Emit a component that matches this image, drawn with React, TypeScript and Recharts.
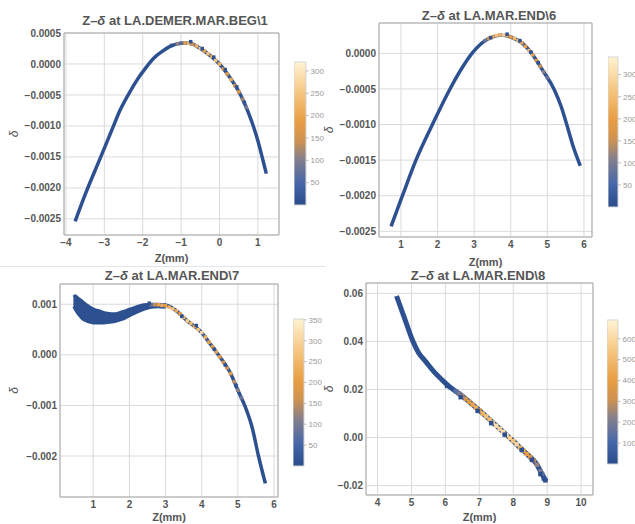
import React from "react";
import {
  ComposedChart,
  Line,
  Area,
  Scatter,
  XAxis,
  YAxis,
  CartesianGrid,
  ReferenceArea,
  BarChart,
  Bar,
} from "recharts";

const FONT = '"Liberation Sans", Arial, sans-serif';
const BLUE = "#2d5190";

// ---- panel 1: LA.DEMER.MAR.BEG\1 ----
const curve1 = [
  [-3.76, -0.00254], [-3.5, -0.00211], [-3.12, -0.00154], [-2.76, -0.001], [-2.6, -0.00076],
  [-2.37, -0.00049], [-2.15, -0.00026], [-1.93, -0.00007], [-1.7, 0.0001], [-1.5, 0.0002],
  [-1.3, 0.00028], [-1.1, 0.000325], [-0.9, 0.00034], [-0.7, 0.00032], [-0.5, 0.00025],
  [-0.25, 0.00014], [0, 0], [0.25, -0.0002], [0.55, -0.0005], [0.75, -0.00078],
  [0.88, -0.001], [1.0, -0.00124], [1.11, -0.0015], [1.22, -0.00177],
];
const hot1 = [
  [-1.1, 0.000325, 110], [-1.0, 0.000337, 70], [-0.9, 0.00034, 190], [-0.8, 0.000335, 230],
  [-0.7, 0.00032, 150], [-0.6, 0.00029, 220], [-0.5, 0.00025, 260], [-0.4, 0.00021, 200],
  [-0.3, 0.000165, 240], [-0.2, 0.00012, 210], [-0.1, 0.00006, 250], [0.0, 0.0, 220],
  [0.1, -0.00008, 190], [0.2, -0.00016, 170], [0.3, -0.00025, 210], [0.4, -0.00035, 150],
  [0.5, -0.00045, 170], [0.6, -0.00057, 120], [0.7, -0.0007, 90],
  [-1.25, 0.0003, 15], [-0.75, 0.00036, 10], [-0.45, 0.00025, 10], [-0.15, 0.00011, 12],
  [0.15, -0.00009, 10], [0.45, -0.00037, 12], [0.65, -0.00062, 15],
];
const xTicks1 = [-4, -3, -2, -1, 0, 1];
const yTicks1 = [-0.0025, -0.002, -0.0015, -0.001, -0.0005, 0, 0.0005];
const cbTicks1 = [50, 100, 150, 200, 250, 300];

// ---- panel 2: LA.MAR.END\6 ----
const curve2 = [
  [0.73, -0.00243], [1.04, -0.002], [1.41, -0.0015], [1.86, -0.001], [2.34, -0.0005],
  [2.65, -0.00022], [2.94, 0], [3.3, 0.00018], [3.55, 0.00024], [3.75, 0.00026],
  [4.0, 0.00023], [4.3, 0.00015], [4.57, 0], [4.9, -0.00026], [5.18, -0.0005],
  [5.38, -0.00075], [5.53, -0.001], [5.72, -0.00133], [5.9, -0.00158],
];
const hot2 = [
  [3.3, 0.00018, 90], [3.4, 0.00021, 170], [3.5, 0.00023, 220], [3.6, 0.00025, 260],
  [3.7, 0.00026, 240], [3.8, 0.00026, 290], [3.9, 0.00025, 230], [4.0, 0.00023, 180],
  [4.1, 0.00021, 240], [4.2, 0.00018, 260], [4.3, 0.00015, 220], [4.4, 0.0001, 200],
  [4.5, 0.00004, 250], [4.6, -0.00002, 210], [4.7, -0.0001, 180], [4.8, -0.00018, 150],
  [4.9, -0.00026, 110], [5.0, -0.00034, 80],
  [3.45, 0.00022, 10], [3.9, 0.00027, 12], [4.25, 0.00018, 10], [4.55, 0.00002, 12],
  [4.75, -0.00013, 10],
];
const xTicks2 = [1, 2, 3, 4, 5, 6];
const yTicks2 = [-0.0025, -0.002, -0.0015, -0.001, -0.0005, 0];
const cbTicks2 = [50, 100, 150, 200, 250, 300];

// ---- panel 3: LA.MAR.END\7 ----
const band3 = [
  [0.45, 0.00095, 0.00115], [0.5, 0.00088, 0.00118], [0.6, 0.00078, 0.00112],
  [0.7, 0.0007, 0.00107], [0.8, 0.00066, 0.00101], [0.9, 0.00064, 0.00096],
  [1.0, 0.00062, 0.00092], [1.2, 0.00062, 0.00087], [1.4, 0.00063, 0.00083],
  [1.6, 0.00065, 0.00082], [1.8, 0.00069, 0.00086], [2.0, 0.00076, 0.00091],
  [2.2, 0.00083, 0.00096], [2.4, 0.00089, 0.001], [2.6, 0.00093, 0.00101],
  [2.8, 0.00094, 0.00101], [3.0, 0.00093, 0.001],
];
const curve3 = [
  [2.9, 0.00098], [3.0, 0.00098], [3.3, 0.00087], [3.6, 0.00067], [4.0, 0.00044],
  [4.2, 0.00025], [4.46, 0], [4.8, -0.00037], [5.0, -0.0007], [5.2, -0.00102],
  [5.4, -0.00145], [5.57, -0.002], [5.76, -0.00254],
];
const hot3 = [
  [2.6, 0.00099, 90], [2.7, 0.00099, 150], [2.8, 0.00099, 210], [2.9, 0.00098, 240],
  [3.0, 0.00097, 200], [3.1, 0.00094, 250], [3.2, 0.00091, 270], [3.3, 0.00087, 230],
  [3.4, 0.00081, 210], [3.5, 0.00074, 260], [3.6, 0.00067, 290], [3.7, 0.00062, 250],
  [3.8, 0.00056, 230], [3.9, 0.0005, 270], [4.0, 0.00044, 300], [4.1, 0.00035, 240],
  [4.2, 0.00025, 220], [4.3, 0.00016, 190], [4.4, 0.00006, 230], [4.5, -0.00004, 200],
  [4.6, -0.00015, 180], [4.7, -0.00026, 170], [4.8, -0.00037, 200], [4.9, -0.00053, 150],
  [5.0, -0.0007, 120], [5.1, -0.00085, 90],
  [2.55, 0.00102, 10], [3.45, 0.00076, 10], [3.85, 0.00058, 10], [4.35, 0.00011, 12],
  [4.65, -0.0002, 10], [4.95, -0.00061, 12],
];
const xTicks3 = [1, 2, 3, 4, 5, 6];
const yTicks3 = [-0.002, -0.001, 0, 0.001];
const cbTicks3 = [50, 100, 150, 200, 250, 300, 350];

// ---- panel 4: LA.MAR.END\8 ----
const curve4 = [
  [4.56, 0.0589], [4.8, 0.0495], [5.03, 0.0405], [5.2, 0.0355], [5.42, 0.0316],
  [5.66, 0.0274], [5.9, 0.024], [6.15, 0.0208], [6.4, 0.0183], [6.6, 0.0161],
  [6.8, 0.0137], [7.0, 0.0113], [7.4, 0.0062], [7.8, 0.0011], [8.0, -0.0015],
  [8.2, -0.0042], [8.4, -0.0068], [8.6, -0.0095], [8.7, -0.0113], [8.8, -0.014],
  [8.9, -0.0165], [8.96, -0.0182],
];
const hot4 = [
  [6.3, 0.0193, 140], [6.4, 0.0183, 200], [6.5, 0.0172, 260], [6.6, 0.0161, 320],
  [6.7, 0.0149, 380], [6.8, 0.0137, 430], [6.9, 0.0125, 460], [7.0, 0.0113, 400],
  [7.1, 0.01, 480], [7.2, 0.0088, 530], [7.3, 0.0075, 500], [7.4, 0.0062, 560],
  [7.5, 0.0049, 620], [7.6, 0.0036, 580], [7.7, 0.0024, 610], [7.8, 0.0011, 650],
  [7.9, -0.0002, 570], [8.0, -0.0015, 520], [8.1, -0.0028, 600], [8.2, -0.0042, 480],
  [8.3, -0.0055, 440], [8.4, -0.0068, 400], [8.5, -0.0081, 340], [8.6, -0.0095, 290],
  [8.7, -0.0113, 240], [8.8, -0.014, 190], [8.85, -0.0152, 160],
  [6.05, 0.0215, 10], [6.45, 0.0168, 15], [6.95, 0.0111, 12], [7.35, 0.006, 15],
  [7.75, 0.0012, 12], [8.25, -0.0052, 15], [8.55, -0.0093, 15], [8.8, -0.0152, 20],
  [8.9, -0.017, 20], [8.95, -0.0178, 25],
];
const xTicks4 = [4, 5, 6, 7, 8, 9, 10];
const yTicks4 = [-0.02, 0, 0.02, 0.04, 0.06];
const cbTicks4 = [100, 200, 300, 400, 500, 600];

// density colour map (blue -> grey -> orange -> cream)
const cmap: [number, string][] = [
  [0, "#2a4c8c"], [0.15, "#4567a9"], [0.32, "#857f8c"], [0.45, "#cf9250"],
  [0.58, "#e89d42"], [0.78, "#f6c57f"], [1, "#fff3d3"],
];

function rgb(h: string) {
  return [1, 3, 5].map((i) => parseInt(h.slice(i, i + 2), 16));
}

function colorAt(t: number) {
  t = Math.max(0, Math.min(1, t));
  for (let i = 1; i < cmap.length; i++) {
    if (t <= cmap[i][0]) {
      const [p0, c0] = cmap[i - 1];
      const [p1, c1] = cmap[i];
      const f = (t - p0) / (p1 - p0);
      const a = rgb(c0), b = rgb(c1);
      const m = a.map((v, k) => Math.round(v + (b[k] - v) * f));
      return `rgb(${m[0]},${m[1]},${m[2]})`;
    }
  }
  return cmap[cmap.length - 1][1];
}

const fmtY = (dec: number) => (v: number) =>
  (v < 0 ? "\u2212" : "") + Math.abs(v).toFixed(dec);
const fmtX = (v: number) => (v < 0 ? "\u2212" + Math.abs(v) : String(v));

const tickStyle = { fontSize: 10, fontWeight: "bold", fill: "#555", fontFamily: FONT };

function Colorbar({ id, left, top, w, h, max, ticks }: any) {
  return (
    <div style={{ position: "absolute", left, top: top - 6 }}>
      <BarChart width={w + 30} height={h + 12} data={[{ k: "c", v: max }]}
        margin={{ top: 6, right: 0, bottom: 6, left: 0 }} barCategoryGap={0}>
        <defs>
          <linearGradient id={id} x1="0" y1="1" x2="0" y2="0">
            {cmap.map(([o, c]) => (
              <stop key={o} offset={`${o * 100}%`} stopColor={c} />
            ))}
          </linearGradient>
        </defs>
        <XAxis dataKey="k" hide />
        <YAxis orientation="right" type="number" domain={[0, max]} ticks={ticks} interval={0}
          width={30} axisLine={false} tickSize={3} tickMargin={2} tickLine={{ stroke: "#bbb" }}
          tick={{ fontSize: 8, fill: "#999", fontFamily: FONT }} />
        <Bar dataKey="v" fill={`url(#${id})`} stroke="#d5d5d5" isAnimationActive={false} />
      </BarChart>
    </div>
  );
}

function Panel(p: any) {
  const toPts = (arr: number[][]) => arr.map(([z, d, c]) => ({ z, d, c }));
  const bandData = p.band ? p.band.map(([z, lo, hi]: number[]) => ({ z, band: [lo, hi] })) : null;
  const cell = (props: any) => {
    const s = p.cell;
    return (
      <rect x={props.cx - s / 2} y={props.cy - s / 2} width={s} height={s}
        fill={colorAt(props.payload.c / p.max)} />
    );
  };
  return (
    <>
      <div style={{ position: "absolute", left: p.left, top: p.top }}>
        <ComposedChart width={p.width} height={p.height} margin={p.margin}>
          <CartesianGrid stroke="#dadada" />
          <XAxis type="number" dataKey="z" domain={p.xDomain} ticks={p.xTicks} interval={0}
            allowDataOverflow height={p.xHeight} tickSize={0} tickMargin={4} axisLine={false}
            tick={tickStyle} tickFormatter={fmtX}
            label={{ value: "Z(mm)", position: "insideBottom", offset: p.labelOffset,
              style: { fontSize: 11, fontWeight: "bold", fill: "#555", fontFamily: FONT } }} />
          <YAxis type="number" dataKey="d" domain={p.yDomain} ticks={p.yTicks} interval={0}
            allowDataOverflow width={p.yWidth} tickSize={0} tickMargin={3} axisLine={false}
            tick={tickStyle} tickFormatter={fmtY(p.dec)}
            label={{ value: "\u03b4", angle: -90, position: "insideLeft", offset: 14,
              style: { fontSize: 12, fontStyle: "italic", fill: "#555", textAnchor: "middle", fontFamily: FONT } }} />
          {bandData && (
            <Area data={bandData} dataKey="band" type="monotone" fill={BLUE} fillOpacity={1}
              stroke={BLUE} strokeWidth={2} isAnimationActive={false} />
          )}
          <Line data={toPts(p.curve)} dataKey="d" type="monotone" stroke={BLUE}
            strokeWidth={p.lineWidth} dot={false} isAnimationActive={false} />
          <Scatter data={toPts(p.hot)} shape={cell} isAnimationActive={false} />
          <ReferenceArea x1={p.xDomain[0]} x2={p.xDomain[1]} y1={p.yDomain[0]} y2={p.yDomain[1]}
            fill="none" stroke="#a9a9a9" ifOverflow="visible" />
        </ComposedChart>
      </div>
      <div style={{ position: "absolute", left: p.titleX, top: p.titleY, transform: "translate(-50%, -50%)",
        whiteSpace: "nowrap", fontSize: 13, fontWeight: "bold", color: "#555", fontFamily: FONT }}>
        Z{"\u2013"}<i>{"\u03b4"}</i> at {p.title}
      </div>
      <Colorbar {...p.cb} />
    </>
  );
}

export default function App() {
  return (
    <div style={{ position: "absolute", left: 0, top: 0, width: 635, height: 524, background: "#fff", overflow: "hidden" }}>
      <div style={{ position: "absolute", left: 0, top: 266, width: 326, height: 1, background: "#e2e6eb" }} />
      <Panel left={0} top={0} width={290} height={266} margin={{ top: 33, right: 11, bottom: 0, left: 0 }}
        yWidth={64} xHeight={31} labelOffset={4} xDomain={[-4.05, 1.55]} yDomain={[-0.00276, 0.0005]}
        xTicks={xTicks1} yTicks={yTicks1} dec={4} curve={curve1} hot={hot1} max={320} cell={3.5} lineWidth={3.5}
        title={"LA.DEMER.MAR.BEG\\1"} titleX={175} titleY={20}
        cb={{ id: "cb1", left: 293.5, top: 62, w: 11.5, h: 143, max: 320, ticks: cbTicks1 }} />
      <Panel left={315} top={0} width={282} height={268} margin={{ top: 23, right: 5, bottom: 0, left: 0 }}
        yWidth={64} xHeight={31} labelOffset={2} xDomain={[0.4, 6.22]} yDomain={[-0.00258, 0.000427]}
        xTicks={xTicks2} yTicks={yTicks2} dec={4} curve={curve2} hot={hot2} max={340} cell={3.5} lineWidth={3.5}
        title={"LA.MAR.END\\6"} titleX={489} titleY={15}
        cb={{ id: "cb2", left: 607.5, top: 57, w: 10, h: 150, max: 340, ticks: cbTicks2 }} />
      <Panel left={0} top={262} width={290} height={262} margin={{ top: 22, right: 12, bottom: 0, left: 0 }}
        yWidth={60} xHeight={27} labelOffset={3} xDomain={[0.08, 6.11]} yDomain={[-0.00281, 0.0014]}
        xTicks={xTicks3} yTicks={yTicks3} dec={3} curve={curve3} band={band3} hot={hot3} max={352} cell={3.5} lineWidth={3.5}
        title={"LA.MAR.END\\7"} titleX={172} titleY={275}
        cb={{ id: "cb3", left: 293, top: 319, w: 10.5, h: 147, max: 352, ticks: cbTicks3 }} />
      <Panel left={315} top={262} width={290} height={264} margin={{ top: 21, right: 12, bottom: 0, left: 0 }}
        yWidth={51} xHeight={31} labelOffset={5} xDomain={[3.66, 10.35]} yDomain={[-0.0239, 0.0643]}
        xTicks={xTicks4} yTicks={yTicks4} dec={2} curve={curve4} hot={hot4} max={690} cell={4.5} lineWidth={5}
        title={"LA.MAR.END\\8"} titleX={478} titleY={275}
        cb={{ id: "cb4", left: 607, top: 320, w: 10.5, h: 144, max: 690, ticks: cbTicks4 }} />
    </div>
  );
}
